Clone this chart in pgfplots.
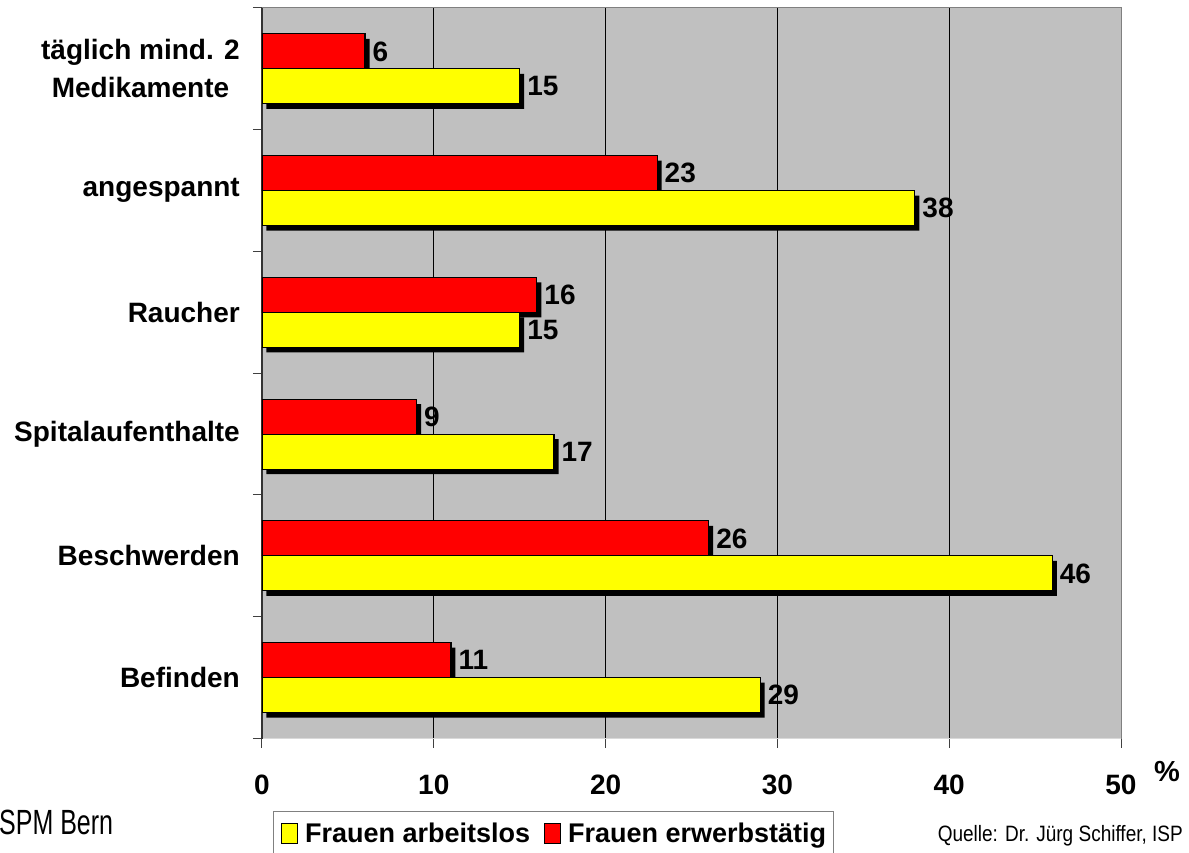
\documentclass[border=0pt]{standalone}
\usepackage{fontspec}
\setmainfont{Liberation Sans}
\usepackage{graphicx}
\usepackage{pgfplots}
\pgfplotsset{compat=1.18}

\definecolor{plotgray}{HTML}{C0C0C0}
\definecolor{framegray}{HTML}{808080}
\definecolor{barYellow}{HTML}{FFFF00}
\definecolor{barRed}{HTML}{FF0000}

\newcommand{\lbl}{\fontsize{28}{38}\selectfont\bfseries}

% values in %: arbeitslose vs. erwerbstaetige Frauen
\pgfplotstableread{
y arbeitslos erwerbstaetig
0 29 11
1 46 26
2 17 9
3 15 16
4 38 23
5 15 6
}\frauen

\begin{document}
\begin{tikzpicture}
\useasboundingbox (0,0) rectangle (1189pt,852pt);
\begin{axis}[
  at={(262pt,113.5pt)}, anchor=south west,
  scale only axis, width=859pt, height=730.5pt,
  xbar, bar width=35pt,
  xmin=0, xmax=50, ymin=-0.5, ymax=5.5,
  axis lines*=left,
  axis background/.style={fill=plotgray, draw=framegray, line width=1pt},
  y axis line style={black!80, line width=1.2pt},
  x axis line style={black!15, line width=1pt},
  xtick={0,10,...,50},
  minor xtick={10,20,30,40},
  xminorgrids,
  minor x grid style={black, line width=0.8pt},
  minor x tick style={draw=none},
  ytick={0,...,5},
  yticklabels={Befinden, Beschwerden, Spitalaufenthalte, Raucher, angespannt, {t\"aglich mind. 2\\Medikamente}},
  minor ytick={-0.5,0.5,...,5.5},
  tick align=outside,
  major tick length=9pt, minor tick length=9pt,
  major y tick style={draw=none},
  minor y tick style={draw=black!75, line width=1pt},
  major x tick style={draw=black!75, line width=1pt},
  /pgf/number format/assume math mode=true,
  xticklabel style={font=\lbl, inner sep=0pt, anchor=north, yshift=-27.5pt},
  yticklabel style={font=\lbl, align=center, anchor=east, inner sep=0pt, xshift=-13pt},
  xlabel={\%},
  xlabel style={at={(axis description cs:1.0535,-0.0450)}, anchor=center, font=\fontsize{29}{32}\selectfont\bfseries},
  every node near coord/.append style={font=\lbl, anchor=west, inner sep=0pt, xshift=7pt, black},
  legend columns=2,
  legend image code/.code={\draw[#1, line width=1pt] (0pt,-10pt) rectangle (16pt,10pt);},
  legend style={at={(axis description cs:0.0128,-0.0992)}, anchor=north west,
    draw=framegray, line width=1.2pt, fill=white, font=\fontsize{27}{36}\selectfont\bfseries,
    inner xsep=7.5pt, inner ysep=11pt,
    nodes={inner sep=0pt},
    column sep=7pt,
    /tikz/every even column/.append style={column sep=14pt}},
]
% erwerbstaetig (upper bar) with its shadow
\addplot[forget plot, fill=black, draw=none, bar shift=17.5pt, xshift=4.5pt, yshift=-5pt]
  table[x=erwerbstaetig, y=y] {\frauen};
\addplot[forget plot, fill=barRed, draw=black, line width=1.2pt, bar shift=17.5pt, nodes near coords]
  table[x=erwerbstaetig, y=y] {\frauen};
% arbeitslos (lower bar) with its shadow
\addplot[forget plot, fill=black, draw=none, bar shift=-17.5pt, xshift=4.5pt, yshift=-5pt]
  table[x=arbeitslos, y=y] {\frauen};
\addplot[forget plot, fill=barYellow, draw=black, line width=1.2pt, bar shift=-17.5pt, nodes near coords]
  table[x=arbeitslos, y=y] {\frauen};

\addlegendimage{fill=barYellow, draw=black}
\addlegendentry{Frauen arbeitslos}
\addlegendimage{fill=barRed, draw=black}
\addlegendentry{Frauen erwerbst\"atig}
\end{axis}

\node[anchor=west, inner sep=0pt] at (-1pt,29.5pt)
  {\scalebox{1}[1.4]{\fontsize{25}{30}\selectfont SPM Bern}};
\node[anchor=east, inner sep=0pt] at (1183pt,16pt)
  {\scalebox{1}[1.17]{\fontsize{19}{23}\selectfont Quelle: Dr. J\"urg Schiffer, ISP}};
\end{tikzpicture}
\end{document}
